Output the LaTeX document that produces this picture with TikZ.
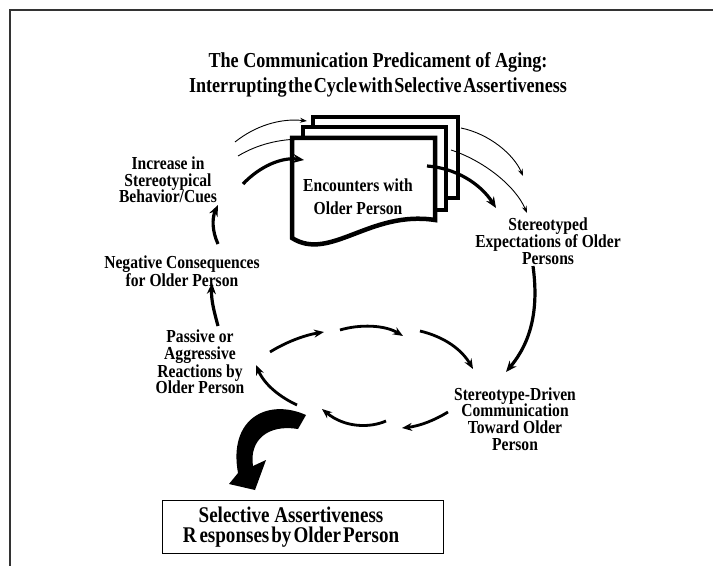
\documentclass[tikz,border=0pt]{standalone}
\usepackage{fontspec}
\setmainfont{Liberation Serif}[FakeStretch=0.85]
\usetikzlibrary{arrows.meta}
\begin{document}
\begin{tikzpicture}[x=1bp,y=-1bp,
  lbl/.style={font=\bfseries\fontsize{18.4}{#1}\selectfont, align=center, inner sep=0pt},
  lbl/.default=16.5,
  titletext/.style={font=\bfseries\fontsize{21.4}{25}\selectfont, align=center, inner sep=0pt},
  boxtext/.style={font=\bfseries\fontsize{22.5}{20.5}\selectfont, align=center, inner sep=0pt},
  thinarrow/.style={line width=0.9bp, -{Stealth[length=7bp,width=5bp]}},
  thinline/.style={line width=0.9bp},
  boldarrow/.style={line width=3.2bp, -{Stealth[length=11bp,width=9bp]}},
  cycarrow/.style={line width=2.8bp, -{Stealth[length=10bp,width=8bp]}},
  docshape/.style={draw, fill=white, line width=4.5bp, miter limit=10},
  framestyle/.style={draw=black!80, line width=1.2bp}
]
\useasboundingbox (0,0) rectangle (713,566);
\fill[white] (0,0) rectangle (713,566);

% frame
\draw[framestyle] (713,10) -- (10,10) -- (10,566);

% title
\node[titletext] (title) at (378,75)
  {The Communication Predicament of Aging:\\
   {\spaceskip=1.5bp plus 0.5bp\relax Interrupting the Cycle with Selective Assertiveness}};

% stack of encounter documents
\draw[docshape] (313,117) rectangle (458,198);
\draw[docshape] (303,127) rectangle (446,210);
\draw[docshape] (292,138) -- (435,138) -- (435,220)
  .. controls (370,210) and (330,262) .. (292,238) -- cycle;
\node[lbl=23] (enc) at (358,197) {Encounters with\\Older Person};

% cycle labels
\node[lbl=16.8] (incr) at (168,180) {Increase in\\Stereotypical\\Behavior/Cues};
\node[lbl=15.5] (neg) at (182,271) {Negative Consequences\\for Older Person};
\node[lbl=16.8] (pass) at (200,362) {Passive or\\Aggressive\\Reactions by\\Older Person};
\node[lbl=17] (expt) at (548,241) {Stereotyped\\Expectations of Older\\Persons};
\node[lbl=16.8] (drv) at (515,419) {Stereotype-Driven\\Communication\\Toward Older\\Person};

% selective assertiveness box
\node[draw, line width=1bp, minimum width=281bp, minimum height=53bp, inner sep=0pt] (sabox) at (302.5,526.5) {};
\node[boxtext] (satext) at (291,527)
  {Selective Assertiveness\\
   {\spaceskip=2bp plus 0.5bp\relax R\kern3bp esponses by Older Person}};

% arrows into the documents
\coordinate (inA) at (235,142);  \coordinate (inAe) at (307,121);
\coordinate (inB) at (238,156);  \coordinate (inBe) at (303,139);
\coordinate (inC) at (243,184);  \coordinate (inCe) at (304,160);
\draw[thinarrow] (inA) .. controls (255,126) and (280,118) .. (inAe);
\draw[thinline] (inB) .. controls (258,144) and (280,139) .. (inBe);
\draw[boldarrow] (inC) .. controls (260,166) and (282,157) .. (inCe);

% arrows out of the documents
\coordinate (outA) at (461,128); \coordinate (outAe) at (523,176);
\coordinate (outB) at (451,150); \coordinate (outBe) at (527,213);
\coordinate (outC) at (427,166); \coordinate (outCe) at (496,208);
\draw[thinarrow] (outA) .. controls (490,134) and (514,155) .. (outAe);
\draw[thinarrow] (outB) .. controls (482,160) and (515,185) .. (outBe);
\draw[boldarrow] (outC) .. controls (455,168) and (480,183) .. (outCe);

% arrows between labels
\coordinate (eS) at (533,266); \coordinate (eE) at (506,372);
\draw[boldarrow] (eS) .. controls (539,310) and (531,342) .. (eE);
\coordinate (pS) at (218,326); \coordinate (pE) at (212,283);
\draw[boldarrow] (pS) .. controls (214,311) and (211,300) .. (pE);
\coordinate (nS) at (218,244); \coordinate (nE) at (218,205);
\draw[boldarrow] (nS) .. controls (212,231) and (212,218) .. (nE);

% broken cycle of interaction
\coordinate (c1s) at (270,352); \coordinate (c1e) at (324,332);
\coordinate (c2s) at (340,330); \coordinate (c2e) at (403,336);
\coordinate (c3s) at (420,331); \coordinate (c3e) at (473,369);
\coordinate (c4s) at (448,412); \coordinate (c4e) at (402,428);
\coordinate (c5s) at (386,421); \coordinate (c5e) at (322,409);
\coordinate (c6s) at (297,405); \coordinate (c6e) at (256,365);
\draw[cycarrow] (c1s) .. controls (286,342) and (305,335) .. (c1e);
\draw[cycarrow] (c2s) .. controls (360,324) and (385,325) .. (c2e);
\draw[cycarrow] (c3s) .. controls (445,337) and (462,350) .. (c3e);
\draw[cycarrow] (c4s) .. controls (435,420) and (420,426) .. (c4e);
\draw[cycarrow] (c5s) .. controls (370,428) and (345,428) .. (c5e);
\draw[cycarrow] (c6s) .. controls (282,398) and (265,386) .. (c6e);

% large curved arrow towards the box
\fill (306,415) .. controls (268,398) and (228,418) .. (238,473)
  -- (229,484) -- (255,490) -- (266,460) -- (253,466)
  .. controls (249,440) and (268,424) .. (298,429) -- cycle;
\end{tikzpicture}
\end{document}
